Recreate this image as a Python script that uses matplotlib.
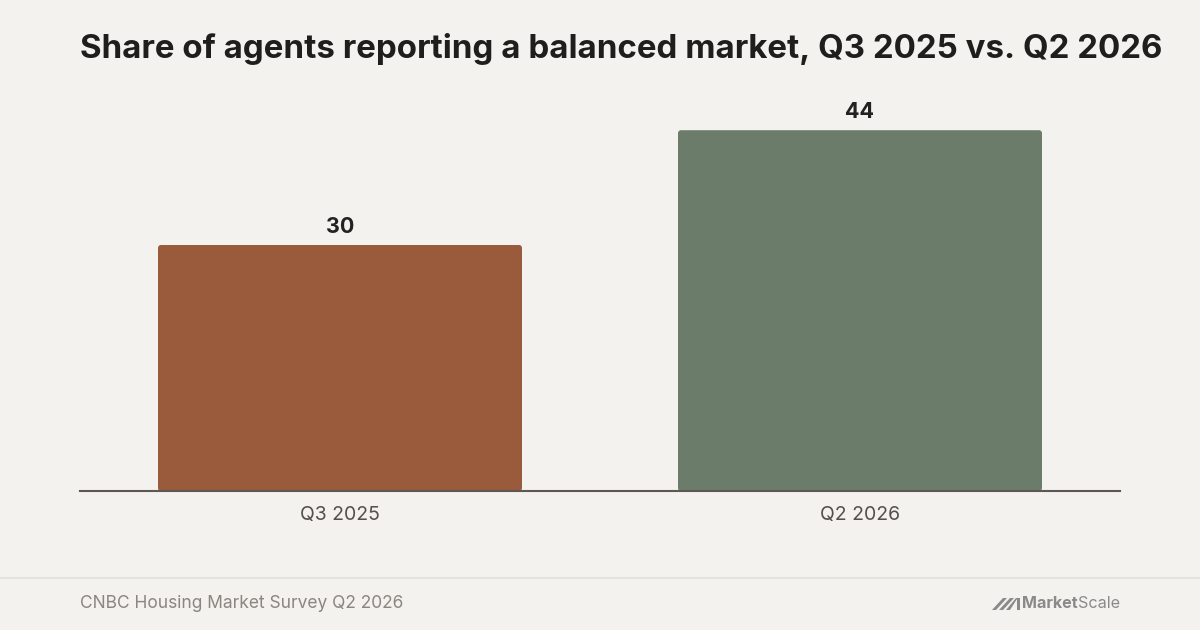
import matplotlib
matplotlib.use("Agg")
import matplotlib.pyplot as plt
from matplotlib.patches import FancyBboxPatch, Polygon

categories = ["Q3 2025", "Q2 2026"]
values = [30, 44]
colors = ["#9A5A3C", "#6B7D6A"]
title = "Share of agents reporting a balanced market, Q3 2025 vs. Q2 2026"
source = "CNBC Housing Market Survey Q2 2026"

BG = "#F4F2EE"
plt.rcParams["font.family"] = ["Inter", "DejaVu Sans"]

W, H = 1200, 630
fig = plt.figure(figsize=(W / 100, H / 100), dpi=100, facecolor=BG)
ax_l, ax_r, ax_b, ax_t = 80, 1120, 491, 81
ax = fig.add_axes([ax_l / W, 1 - ax_b / H, (ax_r - ax_l) / W, (ax_b - ax_t) / H])
ax.set_facecolor(BG)
ymax = 50
ax.set_xlim(-0.5, len(categories) - 0.5)
ax.set_ylim(0, ymax)

x = list(range(len(categories)))
bars = ax.bar(x, values, width=0.7, color=colors)
px_x = (ax_r - ax_l) / len(categories)
px_y = (ax_b - ax_t) / ymax
r = 3.0
for b, c in zip(bars, colors):
    b.set_visible(False)
    fb = FancyBboxPatch((b.get_x(), b.get_y()), b.get_width(), b.get_height(),
                        boxstyle=f"round,pad=0,rounding_size={r / px_x}",
                        mutation_aspect=px_x / px_y,
                        facecolor=c, edgecolor="none", zorder=2)
    ax.add_patch(fb)
    ax.annotate(f"{b.get_height():g}", (b.get_x() + b.get_width() / 2, b.get_height()),
                xytext=(0, 6), textcoords="offset points", ha="center", va="bottom",
                fontsize=15.5, fontweight="bold", color="#222222")

for s in ["top", "right", "left"]:
    ax.spines[s].set_visible(False)
ax.spines["bottom"].set_color("#5E5852")
ax.spines["bottom"].set_linewidth(1.5)
ax.spines["bottom"].set_zorder(3)
ax.set_yticks([])
ax.set_xticks(x)
ax.set_xticklabels(categories, fontsize=14, color="#55504A")
ax.tick_params(axis="x", length=0, pad=11)

fig.text(80 / W, 1 - 49 / H, title, fontsize=23.8, fontweight="bold",
         color="#1E1E1C", ha="left", va="center")

fig.add_artist(plt.Line2D([0, 1], [1 - 578 / H] * 2, color="#E4E2DD", lw=1.5))
fig.text(80 / W, 1 - 603 / H, source, fontsize=12.5, color="#8A8680",
         ha="left", va="center")

# logo
lg = "#8A8A8A"
t1 = fig.text(1022 / W, 1 - 604 / H, "Market", fontsize=11.6, fontweight="bold",
              color=lg, ha="left", va="center")
fig.canvas.draw()
bb = t1.get_window_extent()
fig.text(bb.x1 / W, 1 - 604 / H, "Scale", fontsize=11.6, color=lg, ha="left", va="center")
def P(pts):
    return Polygon([(px / W, 1 - py / H) for px, py in pts], closed=True,
                   transform=fig.transFigure, facecolor=lg, edgecolor="none")
fig.add_artist(P([(992, 610), (996, 610), (1007, 598), (1003, 598)]))
fig.add_artist(P([(999, 610), (1003, 610), (1014, 598), (1010, 598)]))
fig.add_artist(P([(1006, 610), (1010, 610), (1017, 599), (1017, 610), (1020, 610), (1020, 598), (1016, 598)]))

fig.savefig("out.png", dpi=100, facecolor=BG)
